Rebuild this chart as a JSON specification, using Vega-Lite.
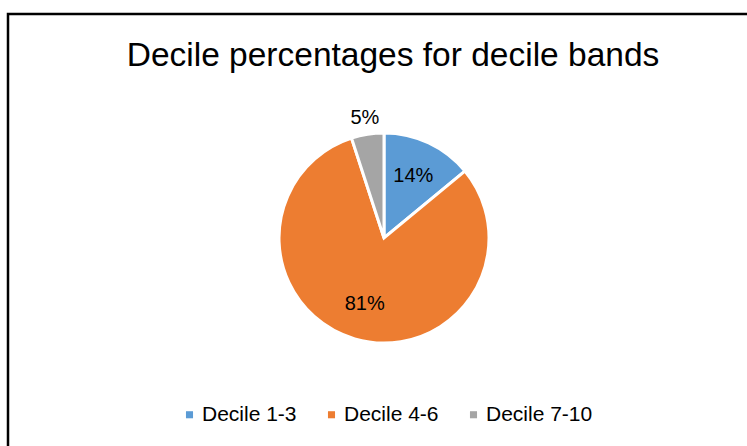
{
  "$schema": "https://vega.github.io/schema/vega-lite/v6.json",
  "autosize": "none",
  "width": 752,
  "height": 448,
  "padding": {"left": 8, "top": 14, "right": -13, "bottom": -16},
  "background": "white",
  "view": {"stroke": "#000000", "strokeWidth": 2.5, "fill": "white"},
  "config": {
    "font": "Liberation Sans"
  },
  "title": {
    "text": "Decile percentages for decile bands",
    "orient": "top",
    "anchor": "middle",
    "offset": -85,
    "baseline": "alphabetic",
    "dx": 9,
    "fontSize": 33.5,
    "fontWeight": "normal",
    "color": "#000000",
    "font": "Liberation Sans"
  },
  "data": {
    "values": [
      {"band": "Decile 1-3", "share": 0.14},
      {"band": "Decile 4-6", "share": 0.81},
      {"band": "Decile 7-10", "share": 0.05}
    ]
  },
  "encoding": {
    "theta": {"field": "share", "type": "quantitative", "stack": true},
    "order": {"field": "band", "type": "nominal"}
  },
  "layer": [
    {
      "mark": {"type": "arc", "outerRadius": 105, "stroke": "white", "strokeWidth": 3},
      "encoding": {
        "color": {
          "field": "band",
          "type": "nominal",
          "scale": {"domain": ["Decile 1-3", "Decile 4-6", "Decile 7-10"], "range": ["#5B9BD5", "#ED7D31", "#A5A5A5"]},
          "legend": {
            "title": null,
            "orient": "none",
            "direction": "horizontal",
            "legendX": 171,
            "legendY": 390,
            "symbolType": "square",
            "symbolSize": 50,
            "symbolStrokeWidth": 0,
            "labelFontSize": 21,
            "labelFont": "Liberation Sans",
            "labelColor": "#000000",
            "columnPadding": 24,
            "labelOffset": 2
          }
        }
      }
    },
    {
      "mark": {"type": "text", "fontSize": 20, "font": "Liberation Sans", "color": "#000000", "radius": 69},
      "encoding": {
        "text": {
          "condition": {"test": "datum.band === 'Decile 7-10'", "value": ""},
          "field": "share", "type": "quantitative", "format": ".0%"
        }
      }
    },
    {
      "mark": {"type": "text", "fontSize": 20, "font": "Liberation Sans", "color": "#000000", "radius": 122},
      "encoding": {
        "text": {
          "condition": {"test": "datum.band !== 'Decile 7-10'", "value": ""},
          "field": "share", "type": "quantitative", "format": ".0%"
        }
      }
    }
  ]
}
